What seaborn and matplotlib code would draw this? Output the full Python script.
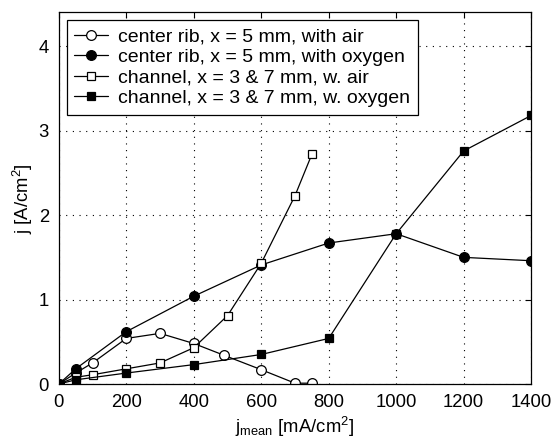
import matplotlib
matplotlib.use("Agg")
import matplotlib.pyplot as plt
import seaborn as sns
import pandas as pd

sns.set_theme(style="white")
plt.rcParams["font.family"] = ["Liberation Sans", "DejaVu Sans"]
plt.rcParams["mathtext.fontset"] = "custom"
plt.rcParams["mathtext.rm"] = "Liberation Sans"
plt.rcParams["mathtext.it"] = "Liberation Sans"
plt.rcParams["text.color"] = "black"
plt.rcParams["axes.labelcolor"] = "black"

# Local current density vs. mean current density
rib_air_x = [0, 50, 100, 200, 300, 400, 490, 600, 700, 750]
rib_air_y = [0, 0.13, 0.25, 0.54, 0.60, 0.48, 0.34, 0.17, 0.01, 0.01]

rib_o2_x = [0, 50, 200, 400, 600, 800, 1000, 1200, 1400]
rib_o2_y = [0, 0.18, 0.62, 1.04, 1.41, 1.67, 1.78, 1.50, 1.46]

ch_air_x = [0, 50, 100, 200, 300, 400, 500, 600, 700, 750]
ch_air_y = [0, 0.08, 0.11, 0.18, 0.25, 0.43, 0.81, 1.43, 2.23, 2.72]

ch_o2_x = [0, 50, 200, 400, 600, 800, 1000, 1200, 1400]
ch_o2_y = [0, 0.05, 0.13, 0.23, 0.35, 0.54, 1.78, 2.76, 3.18]

labels = [
    "center rib, x = 5 mm, with air",
    "center rib, x = 5 mm, with oxygen",
    "channel, x = 3 & 7 mm, w. air",
    "channel, x = 3 & 7 mm, w. oxygen",
]

series = [
    (rib_air_x, rib_air_y, "o", "white", 7),
    (rib_o2_x, rib_o2_y, "o", "black", 7),
    (ch_air_x, ch_air_y, "s", "white", 5.3),
    (ch_o2_x, ch_o2_y, "s", "black", 5.3),
]

fig = plt.figure(figsize=(5.55, 4.45), dpi=100)
ax = fig.add_axes([0.106, 0.137, 0.851, 0.835])

for (xs, ys, mk, fc, ms), lab in zip(series, labels):
    df = pd.DataFrame({"x": xs, "y": ys})
    sns.lineplot(data=df, x="x", y="y", ax=ax, color="black", linewidth=0.9,
                 marker=mk, markerfacecolor=fc, markeredgecolor="black",
                 markeredgewidth=0.9, markersize=ms, label=lab)

ax.set_xlim(0, 1400)
ax.set_ylim(0, 4.4)
ax.set_xticks(range(0, 1401, 200))
ax.set_yticks([0, 1, 2, 3, 4])
ax.tick_params(direction="in", top=True, right=True, labelsize=13.3,
               length=4, width=0.8, colors="black", pad=7)
ax.grid(True, linestyle=(0, (1, 5)), color="black", linewidth=0.8)
for s in ax.spines.values():
    s.set_color("black")
    s.set_linewidth(0.9)

ax.set_xlabel(r"j$_{\mathrm{mean}}$ [mA/cm$^2$]", fontsize=13.3, labelpad=3)
ax.set_ylabel(r"j [A/cm$^2$]", fontsize=13.3, labelpad=3)

leg = ax.legend(loc="upper left", fontsize=14, frameon=True, fancybox=False,
                edgecolor="black", framealpha=1, borderpad=0.4,
                labelspacing=0.15, handlelength=1.75, handletextpad=0.5,
                borderaxespad=0.4)
leg.get_frame().set_linewidth(0.9)

fig.savefig("out.png", dpi=100)
